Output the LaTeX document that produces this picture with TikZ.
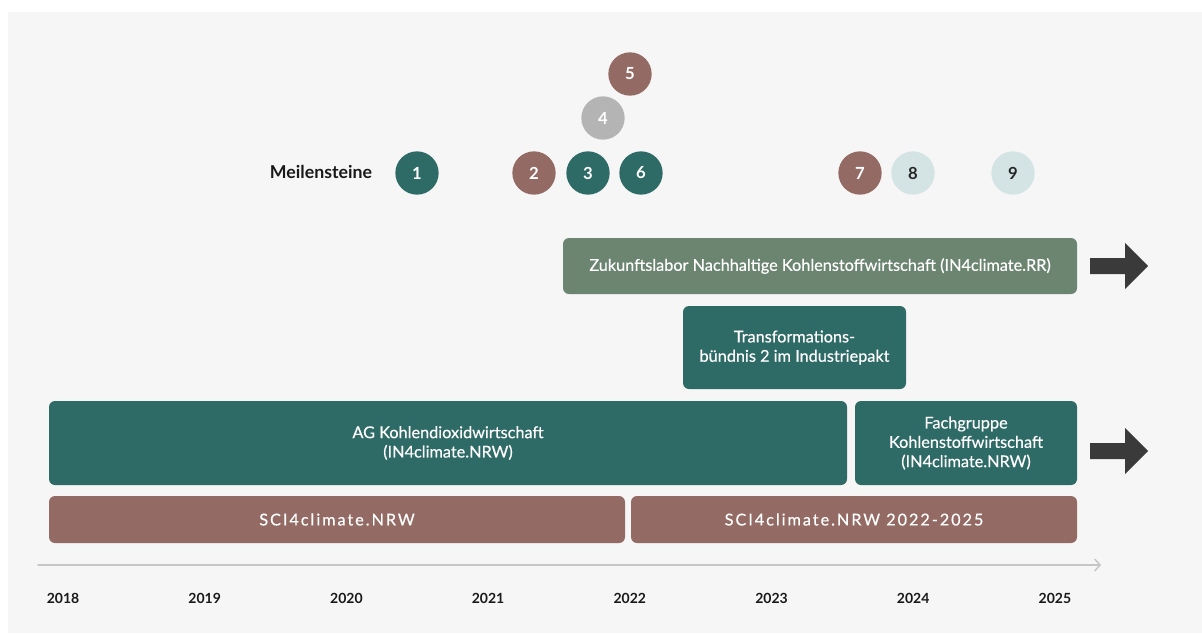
\documentclass[tikz,border=0pt]{standalone}
\usepackage{fontspec}
\setmainfont{Lato}
\usetikzlibrary{arrows.meta}

\definecolor{teal}{HTML}{2F6B66}
\definecolor{rosebrown}{HTML}{946B64}
\definecolor{sage}{HTML}{6B8570}
\definecolor{stonegray}{HTML}{B4B4B4}
\definecolor{mintlight}{HTML}{D4E3E3}
\definecolor{backgray}{HTML}{F6F6F6}
\definecolor{arrowdark}{HTML}{3A3A3A}
\definecolor{axisgray}{HTML}{C6C6C6}

\tikzset{
  bar/.style={rounded corners=4.5pt, inner sep=0pt, align=center, text=white,
    font=\fontsize{12.2}{14.5}\selectfont\addfontfeatures{FakeBold=0.4}},
  sci/.style={bar, fill=rosebrown, font=\fontsize{12.2}{14}\selectfont\addfontfeatures{LetterSpace=12,FakeBold=0.4}},
  mile/.style={circle, minimum size=32.5pt, inner sep=0pt, text=white,
    font=\fontsize{12.5}{13}\selectfont\bfseries},
  yearlabel/.style={font=\fontsize{10.5}{12}\selectfont\bfseries, text=black!90},
  axisline/.style={axisgray, line width=1.1pt, -{Straight Barb[length=4pt,width=9pt]}},
  arrowfill/.style={fill=arrowdark}
}

\begin{document}
\begin{tikzpicture}[x=0.75pt, y=-0.75pt, line cap=round, line join=round]
  \useasboundingbox (0,0) rectangle (1202,633);
  \fill[white] (0,0) rectangle (1202,633);
  \fill[backgray] (8,12) rectangle (1202,633);

  % milestones
  \node[font=\fontsize{13.3}{14}\selectfont\bfseries, text=black!90] (mlabel) at (321,172) {Meilensteine};
  \node[mile, fill=teal] (m1) at (417,173) {1};
  \node[mile, fill=rosebrown] (m2) at (534,173) {2};
  \node[mile, fill=teal] (m3) at (588,173) {3};
  \node[mile, fill=stonegray] (m4) at (603,118) {4};
  \node[mile, fill=rosebrown] (m5) at (630,74) {5};
  \node[mile, fill=teal] (m6) at (641,173) {6};
  \node[mile, fill=rosebrown] (m7) at (860,173) {7};
  \node[mile, fill=mintlight, text=black!85] (m8) at (913,173) {8};
  \node[mile, fill=mintlight, text=black!85] (m9) at (1013,173) {9};

  % projects
  \node[bar, fill=sage, minimum width=385.5pt, minimum height=42pt] (zukunft) at (820,266)
    {Zukunftslabor Nachhaltige Kohlenstoffwirtschaft (IN4climate.RR)};
  \node[bar, fill=teal, minimum width=167.25pt, minimum height=62.25pt] (transf) at (794.5,347.5)
    {Transformations-\\bündnis 2 im Industriepakt};
  \node[bar, fill=teal, minimum width=598.5pt, minimum height=63pt] (agco2) at (448,443)
    {AG Kohlendioxidwirtschaft\\(IN4climate.NRW)};
  \node[bar, fill=teal, minimum width=166.5pt, minimum height=63pt] (fach) at (966,443)
    {Fachgruppe\\Kohlenstoffwirtschaft\\(IN4climate.NRW)};
  \node[sci, minimum width=432pt, minimum height=35.25pt] (sci1) at (337,519.5) {SCI4climate.NRW};
  \node[sci, minimum width=334.5pt, minimum height=35.25pt] (sci2) at (854,519.5) {SCI4climate.NRW 2022-2025};

  % continuation arrows
  \coordinate (zarrow) at (1090,266);
  \coordinate (farrow) at (1090,451);
  \foreach \c in {zarrow,farrow}
    \fill[arrowfill] (\c) ++(0,-8) -- ++(35,0) -- ++(0,-15) -- ++(23,23)
      -- ++(-23,23) -- ++(0,-15) -- ++(-35,0) -- cycle;

  % time axis
  \coordinate (axisstart) at (38,565);
  \coordinate (axisend) at (1101,565);
  \draw[axisline] (axisstart) -- (axisend);
  \foreach \yr [count=\i from 0] in {2018,2019,2020,2021,2022,2023,2024,2025}
    \node[yearlabel] (y\yr) at (63+141.7*\i,598) {\yr};
\end{tikzpicture}
\end{document}
